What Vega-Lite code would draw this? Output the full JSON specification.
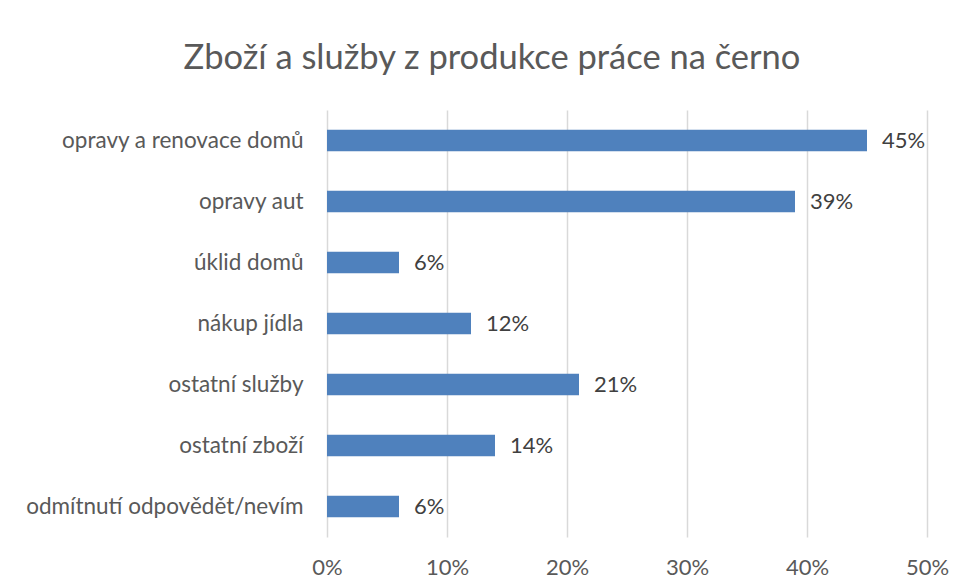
{
  "$schema": "https://vega.github.io/schema/vega-lite/v6.json",
  "autosize": "none",
  "width": 600,
  "height": 427,
  "padding": {"left": 327, "top": 110, "right": 36, "bottom": 51},
  "background": "white",
  "title": {
    "text": "Zboží a služby z produkce práce na černo",
    "anchor": "middle",
    "dx": -135,
    "offset": 7,
    "baseline": "alphabetic",
    "font": "Lato",
    "fontSize": 34.5,
    "fontWeight": "normal",
    "color": "#595959"
  },
  "data": {
    "values": [
      {"kategorie": "opravy a renovace domů", "podil": 0.45},
      {"kategorie": "opravy aut", "podil": 0.39},
      {"kategorie": "úklid domů", "podil": 0.06},
      {"kategorie": "nákup jídla", "podil": 0.12},
      {"kategorie": "ostatní služby", "podil": 0.21},
      {"kategorie": "ostatní zboží", "podil": 0.14},
      {"kategorie": "odmítnutí odpovědět/nevím", "podil": 0.06}
    ]
  },
  "config": {
    "view": {"stroke": null},
    "font": "Lato"
  },
  "encoding": {
    "y": {
      "field": "kategorie",
      "type": "nominal",
      "sort": null,
      "scale": {"paddingInner": 0.65, "paddingOuter": 0.325},
      "axis": {
        "title": null,
        "ticks": false,
        "domain": false,
        "grid": false,
        "labelFont": "Lato",
        "labelFontSize": 22.5,
        "labelColor": "#595959",
        "labelPadding": 24,
        "labelLimit": 400
      }
    },
    "x": {
      "field": "podil",
      "type": "quantitative",
      "scale": {"domain": [0, 0.5], "nice": false},
      "axis": {
        "title": null,
        "format": ".0%",
        "values": [0, 0.1, 0.2, 0.3, 0.4, 0.5],
        "ticks": false,
        "domain": false,
        "grid": true,
        "gridColor": "#d9d9d9",
        "gridWidth": 1.5,
        "labelFlush": false,
        "labelFont": "Lato",
        "labelFontSize": 22,
        "labelColor": "#595959",
        "labelPadding": 20
      }
    }
  },
  "layer": [
    {"mark": {"type": "bar", "color": "#4F81BD"}},
    {
      "mark": {"type": "text", "align": "left", "baseline": "middle", "dx": 15, "font": "Lato", "fontSize": 22, "color": "#404040"},
      "encoding": {"text": {"field": "podil", "type": "quantitative", "format": ".0%"}}
    }
  ]
}
